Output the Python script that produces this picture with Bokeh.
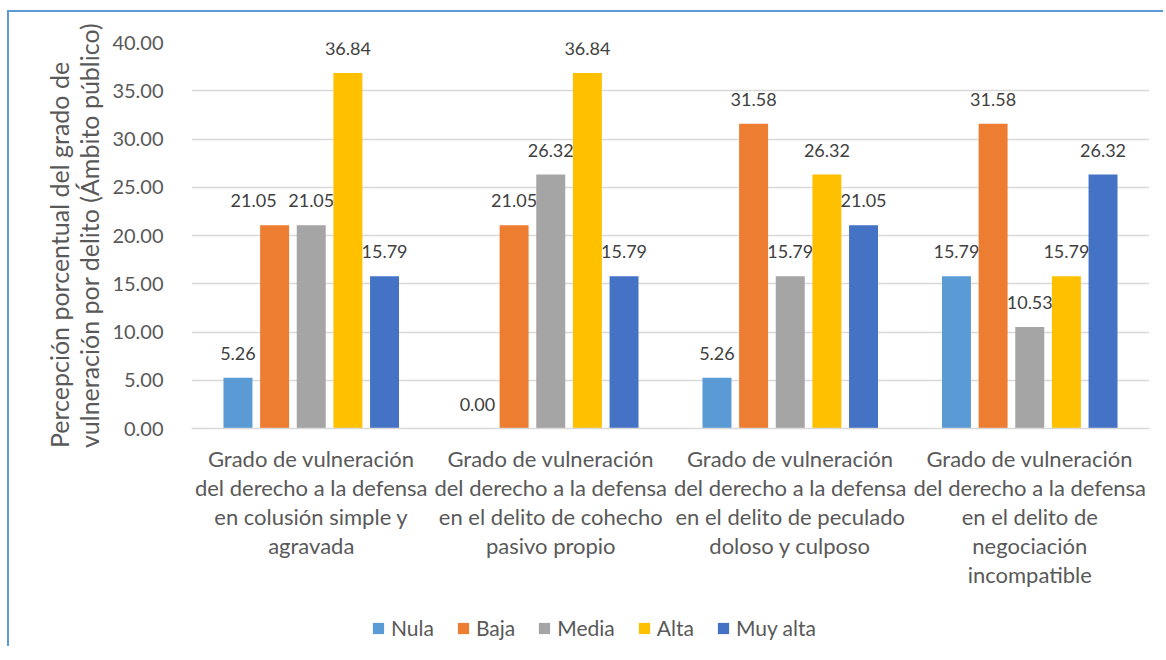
from bokeh.plotting import figure
from bokeh.layouts import column
from bokeh.models import ColumnDataSource, Legend, LegendItem, FactorRange, Range1d, FixedTicker, NumeralTickFormatter, Title
from bokeh.transform import dodge
from bokeh.core.properties import value
from bokeh.embed import file_html
from bokeh.resources import INLINE

categories = [
    "Grado de vulneración\ndel derecho a la defensa\nen colusión simple y\nagravada",
    "Grado de vulneración\ndel derecho a la defensa\nen el delito de cohecho\npasivo propio",
    "Grado de vulneración\ndel derecho a la defensa\nen el delito de peculado\ndoloso y culposo",
    "Grado de vulneración\ndel derecho a la defensa\nen el delito de\nnegociación\nincompatible",
]
series = ["Nula", "Baja", "Media", "Alta", "Muy alta"]
nula = [5.26, 0.00, 5.26, 15.79]
baja = [21.05, 21.05, 31.58, 31.58]
media = [21.05, 26.32, 15.79, 10.53]
alta = [36.84, 36.84, 26.32, 15.79]
muy_alta = [15.79, 15.79, 21.05, 26.32]
y_ticks = [0, 5, 10, 15, 20, 25, 30, 35, 40]
y_title = "Percepción porcentual del grado de\nvulneración por delito (Ámbito público)"

values = [nula, baja, media, alta, muy_alta]
colors = ["#5B9BD5", "#ED7D31", "#A5A5A5", "#FFC000", "#4472C4"]
FONT = "Lato"
BORDER = "2px solid #5B9BD5"

p = figure(
    x_range=FactorRange(*categories, range_padding=0),
    y_range=Range1d(0, 40),
    width=1156, height=600,
    output_backend="svg", toolbar_location=None,
    min_border_left=182, min_border_right=16, min_border_top=30, min_border_bottom=184,
)
p.styles = {"border-left": BORDER, "border-top": BORDER,
            "margin-top": "10px", "margin-left": "7px"}
p.outline_line_color = None

pitch = 0.153
bw = 0.121
n = len(series)
for i, (name, vals, col) in enumerate(zip(series, values, colors)):
    # shift a label left when the next bar's label sits at the same height (avoid overlap)
    xoff = []
    for g, v in enumerate(vals):
        if i + 1 < n and abs(values[i + 1][g] - v) < 1.5:
            xoff.append(-21)
        else:
            xoff.append(0)
    src = ColumnDataSource(dict(x=categories, top=vals, lab=["%.2f" % v for v in vals], xoff=xoff))
    off = (i - 2) * pitch
    p.vbar(x=dodge("x", off, range=p.x_range), top="top", width=bw, source=src,
           fill_color=col, line_color=None)
    p.text(x=dodge("x", off, range=p.x_range), y="top", text="lab", source=src,
           x_offset="xoff", text_align="center", text_baseline="bottom", y_offset=-18,
           text_font=value(FONT), text_font_size="18px", text_color="#404040")

p.xgrid.grid_line_color = None
p.ygrid.grid_line_color = "#D9D9D9"
p.ygrid.grid_line_width = 1.5

p.yaxis.ticker = FixedTicker(ticks=y_ticks)
p.yaxis.formatter = NumeralTickFormatter(format="0.00")
p.yaxis.axis_line_color = None
p.yaxis.major_tick_line_color = None
p.yaxis.minor_tick_line_color = None
p.yaxis.major_label_standoff = 22
p.yaxis.major_label_text_font = FONT
p.yaxis.major_label_text_font_size = "20px"
p.yaxis.major_label_text_color = "#595959"

# vertical axis title as a side title, nudged slightly downwards like the original
ytitle = Title(text=y_title, align="center", offset=-28, standoff=12,
               text_font=FONT, text_font_size="25px", text_font_style="normal",
               text_color="#595959", text_line_height=1.0)
p.add_layout(ytitle, "left")

p.xaxis.axis_line_color = "#D9D9D9"
p.xaxis.axis_line_width = 1.5
p.xaxis.major_tick_line_color = None
p.xaxis.minor_tick_line_color = None
p.xaxis.major_label_standoff = 10
p.xaxis.major_label_text_font = FONT
p.xaxis.major_label_text_font_size = "22px"
p.xaxis.major_label_text_color = "#595959"
p.xaxis.major_label_text_line_height = 1.08

# legend strip below the chart (its frame is aligned with the chart's frame)
lg = figure(width=1156, height=36, output_backend="svg", toolbar_location=None,
            x_range=Range1d(0, 1), y_range=Range1d(0, 1),
            x_axis_type=None, y_axis_type=None, min_border=0)
lg.styles = {"border-left": BORDER, "margin-left": "7px"}
lg.outline_line_color = None
lg.xgrid.grid_line_color = None
lg.ygrid.grid_line_color = None
lg_items = []
for name, col in zip(series, colors):
    rr = lg.vbar(x=[0.5], top=[0], bottom=[0], width=0.0, fill_color=col, line_color=None)
    lg_items.append(LegendItem(label=name, renderers=[rr]))
legend = Legend(items=lg_items, orientation="horizontal", location=(180, 6),
                label_text_font=FONT, label_text_font_size="21px", label_text_color="#595959",
                glyph_width=14, glyph_height=14, spacing=22, label_standoff=6,
                border_line_color=None, background_fill_alpha=0, margin=0, padding=0)
lg.add_layout(legend, "center")

layout = column(p, lg, spacing=0)
open("out.html", "w").write(file_html(layout, INLINE))
